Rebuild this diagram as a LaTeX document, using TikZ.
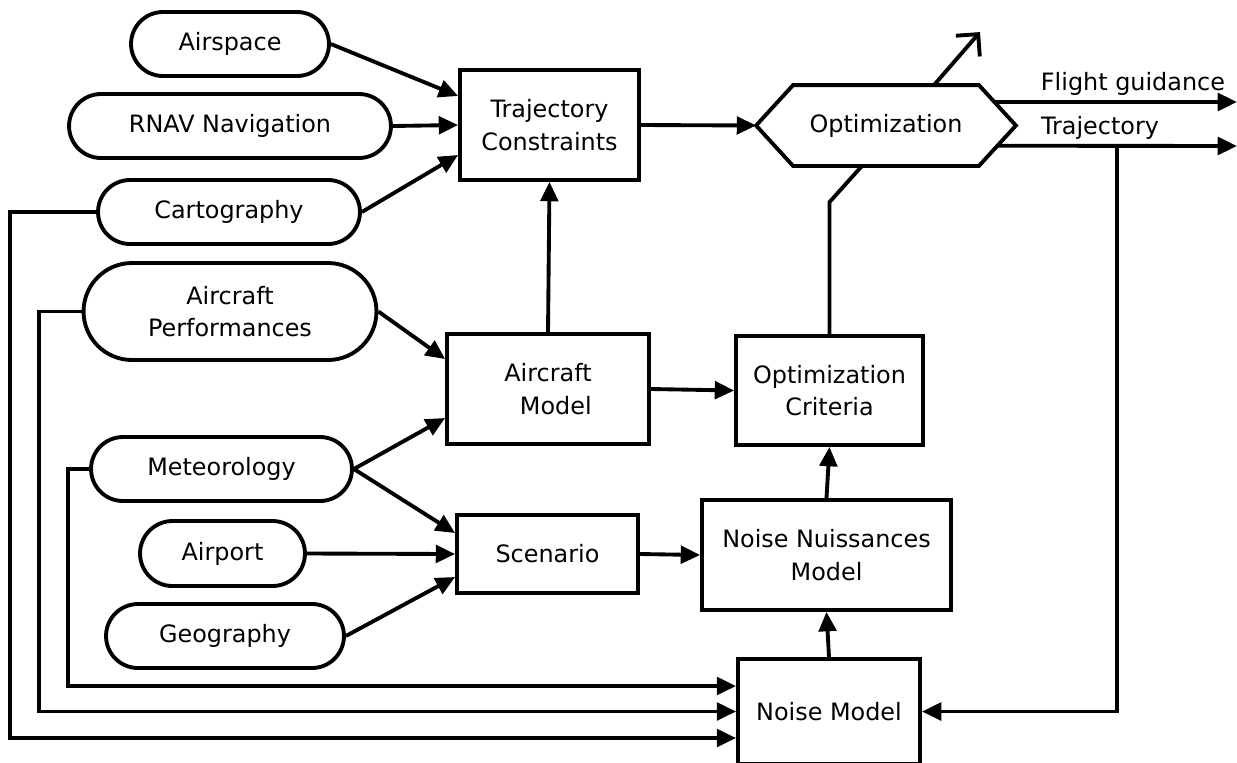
\documentclass[tikz,border=0pt]{standalone}
\usepackage{fontspec}
\setmainfont{DejaVu Sans}
\usetikzlibrary{arrows.meta,shapes.misc,calc}
\tikzset{
  base/.style={draw=black,line width=2.2pt,inner sep=2pt,align=center,font=\fontsize{13.6pt}{18.5pt}\selectfont},
  pill/.style={base,rounded rectangle},
  box/.style={base,rectangle},
  lbl/.style={inner sep=0pt,font=\fontsize{13.6pt}{18.5pt}\selectfont},
  con/.style={line width=2.2pt},
  arr/.style={con,-{Triangle[length=11pt,width=10pt]}},
}
\begin{document}
\begin{tikzpicture}[x=0.02cm,y=-0.02cm]
\useasboundingbox[fill=white] (0,0) rectangle (1237,762);
% input pills
\node[pill,minimum width=4.1cm,minimum height=1.28cm] (air) at (230,44) {Airspace};
\node[pill,minimum width=6.58cm,minimum height=1.28cm] (rnav) at (230,126) {RNAV Navigation};
\node[pill,minimum width=5.38cm,minimum height=1.28cm] (cart) at (229,212) {Cartography};
\node[pill,minimum width=6.0cm,minimum height=1.94cm] (apf) at (230,311.5) {Aircraft\\Performances};
\node[pill,minimum width=5.36cm,minimum height=1.28cm] (met) at (221.5,469) {Meteorology};
\node[pill,minimum width=3.44cm,minimum height=1.3cm] (apt) at (222.5,553.5) {Airport};
\node[pill,minimum width=4.9cm,minimum height=1.28cm] (geo) at (225,636) {Geography};
% boxes
\node[box,minimum width=3.58cm,minimum height=2.2cm] (tc) at (549.5,125) {Trajectory\\Constraints};
\node[box,minimum width=4.04cm,minimum height=2.2cm] (am) at (548,389) {Aircraft\\\hspace*{0.65em}Model};
\node[box,minimum width=3.74cm,minimum height=2.18cm] (oc) at (829.5,390.5) {Optimization\\Criteria};
\node[box,minimum width=3.62cm,minimum height=1.56cm] (scen) at (547.5,554) {Scenario};
\node[box,minimum width=4.98cm,minimum height=2.2cm] (nnm) at (826.5,555) {Noise Nuissances\\Model};
\node[box,minimum width=3.64cm,minimum height=2.1cm] (nm) at (829,711.5) {Noise Model};
% optimization hexagon
\node[base,draw=none,minimum width=5.12cm,minimum height=1.54cm] (opt) at (886,125.5) {Optimization};
\coordinate (hNW) at ([xshift=0.74cm]opt.north west);
\coordinate (hNE) at ([xshift=-0.74cm]opt.north east);
\coordinate (hSE) at ([xshift=-0.74cm]opt.south east);
\coordinate (hSW) at ([xshift=0.74cm]opt.south west);
\draw[con,line join=miter] (opt.west) -- (hNW) -- (hNE) -- (opt.east) -- (hSE) -- (hSW) -- cycle;
% labels
\node[lbl] (fglbl) at (1133,84) {Flight guidance};
\node[lbl] (tjlbl) at (1100,128) {Trajectory};
% connectors
\draw[arr] (air.east) -- ([yshift=0.58cm]tc.west);
\draw[arr] (rnav.east) -- (tc.west);
\draw[arr] (cart.east) -- ([yshift=-0.6cm]tc.west);
\draw[arr] (tc.east) -- (opt.west);
\draw[arr] (am.north) -- (tc.south);
\draw[arr] (apf.east) -- ([yshift=0.6cm]am.west);
\draw[arr] (met.east) -- ([yshift=-0.58cm]am.west);
\draw[arr] (met.east) -- ([yshift=0.42cm]scen.west);
\draw[arr] (apt.east) -- (scen.west);
\draw[arr] (geo.east) -- ([yshift=-0.46cm]scen.west);
\draw[arr] (am.east) -- (oc.west);
\draw[arr] (scen.east) -- (nnm.west);
\draw[arr] (nnm.north) -- (oc.south);
\draw[arr] (nm.north) -- (nnm.south);
\draw[con,line join=miter] (oc.north) -- ++(0,-132) -- ([xshift=-0.48cm]opt.south);
\coordinate (upend) at ($([xshift=0.96cm]opt.north)+(46,-53)$);
\draw[con,-{Straight Barb[length=9pt,width=18pt,line width=2.2pt]}] ([xshift=0.96cm]opt.north) -- (upend);
\coordinate (fgstart) at ($(hNE)!0.42!(opt.east)$);
\coordinate (fgend) at (1237,102);
\draw[arr] (fgstart) -- (fgend);
\coordinate (tjstart) at ($(opt.east)!0.5!(hSE)$);
\coordinate (tjend) at (1237,146);
\draw[arr] (tjstart) -- (tjend);
\coordinate (tjsplit) at (1117,146);
\draw[arr,line join=miter] (tjsplit) |- (nm.east);
% feedback loops on the left
\draw[arr,line join=miter] (cart.west) -- ++(-86,0) |- ([yshift=-0.53cm]nm.west);
\draw[arr,line join=miter] (apf.west) -- ++(-43,0) |- (nm.west);
\draw[arr,line join=miter] (met.west) -- ++(-21,0) |- ([yshift=0.51cm]nm.west);
\end{tikzpicture}
\end{document}
